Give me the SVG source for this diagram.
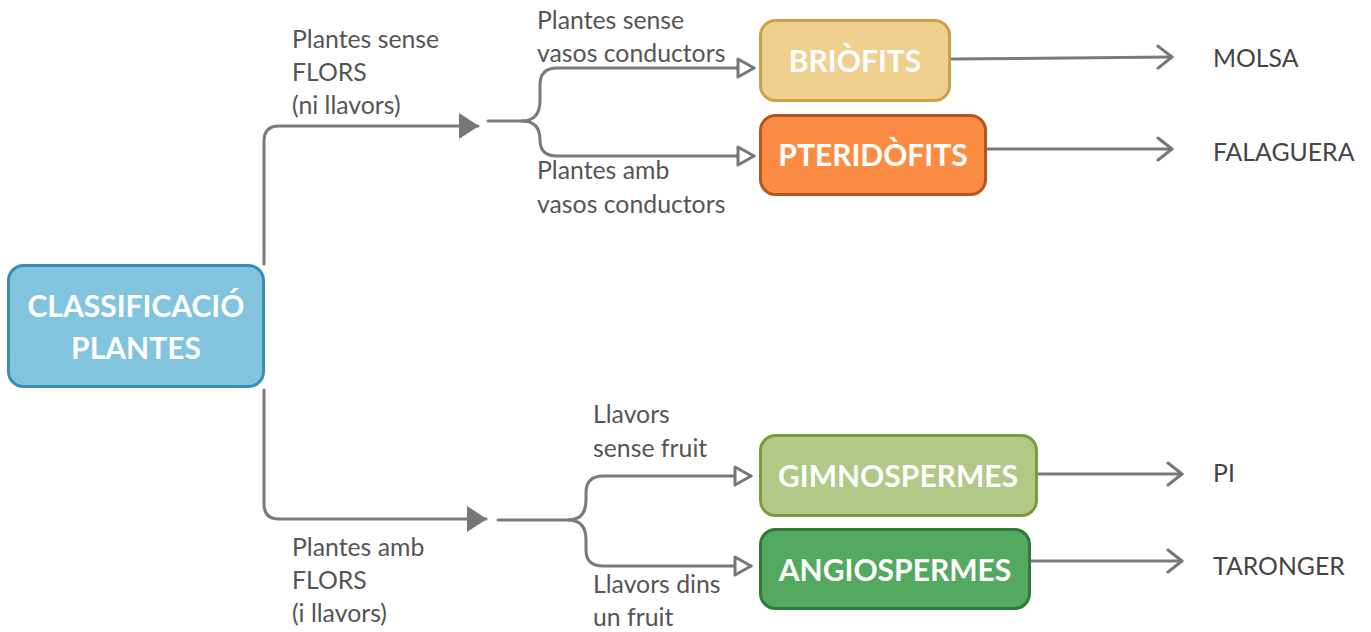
<svg xmlns="http://www.w3.org/2000/svg" width="1371" height="632" viewBox="0 0 1371 632">
<defs>
<marker id="filled" viewBox="0 0 20 26" refX="19" refY="13" markerWidth="20" markerHeight="26" markerUnits="userSpaceOnUse" orient="auto">
<path d="M0,0 L20,13 L0,26 Z" fill="#777"/>
</marker>
<marker id="hollow" viewBox="0 0 20 22" refX="18" refY="11" markerWidth="20" markerHeight="22" markerUnits="userSpaceOnUse" orient="auto">
<path d="M2,2 L18,11 L2,20 Z" fill="#fff" stroke="#777" stroke-width="3" stroke-linejoin="round"/>
</marker>
<marker id="open" viewBox="0 0 18 26" refX="16" refY="13" markerWidth="18" markerHeight="26" markerUnits="userSpaceOnUse" orient="auto">
<path d="M2,2 L16,13 L2,24" fill="none" stroke="#777" stroke-width="3" stroke-linecap="round" stroke-linejoin="round"/>
</marker>
</defs>
<style>
.c{fill:none;stroke:#7a7a7a;stroke-width:3;stroke-linecap:round;stroke-linejoin:round}
.box{stroke-width:3}
.nt{font-family:Lato,"Liberation Sans",sans-serif;font-weight:bold;font-size:30px;fill:#fff;text-anchor:middle}
.lbl{font-family:Lato,"Liberation Sans",sans-serif;font-size:24.8px;fill:#555}
.leaf{font-family:Lato,"Liberation Sans",sans-serif;font-size:24.8px;fill:#444}
</style>
<rect width="1371" height="632" fill="#fff"/>
<g id="connectors">
<path class="c" d="M264,264 L264,141 Q264,126 279,126 L478,126" marker-end="url(#filled)"/>
<path class="c" d="M488,121 L522,121 Q540,121 540,100 L540,85 Q540,68 557,68 L754,68" marker-end="url(#hollow)"/>
<path class="c" d="M522,121 Q540,121 540,140 L540,140 Q540,156 557,156 L754,156" marker-end="url(#hollow)"/>
<path class="c" d="M264,390 L264,504 Q264,519 279,519 L486,519" marker-end="url(#filled)"/>
<path class="c" d="M498,520 L568,520 Q586,520 586,500 L586,493 Q586,476 603,476 L751,476" marker-end="url(#hollow)"/>
<path class="c" d="M568,520 Q586,520 586,540 L586,550 Q586,566 603,566 L751,566" marker-end="url(#hollow)"/>
<path class="c" d="M951,59 L1172,57" marker-end="url(#open)"/>
<path class="c" d="M987,149 L1172,149" marker-end="url(#open)"/>
<path class="c" d="M1038,474 L1182,474" marker-end="url(#open)"/>
<path class="c" d="M1031,561 L1182,561" marker-end="url(#open)"/>
</g>
<g id="labels">
<text class="lbl" x="292" y="48">Plantes sense</text>
<text class="lbl" x="292" y="81">FLORS</text>
<text class="lbl" x="292" y="114">(ni llavors)</text>
<text class="lbl" x="537" y="29">Plantes sense</text>
<text class="lbl" x="537" y="62">vasos conductors</text>
<text class="lbl" x="537" y="179">Plantes amb</text>
<text class="lbl" x="537" y="213">vasos conductors</text>
<text class="lbl" x="593" y="423">Llavors</text>
<text class="lbl" x="593" y="457">sense fruit</text>
<text class="lbl" x="593" y="593">Llavors dins</text>
<text class="lbl" x="593" y="626">un fruit</text>
<text class="lbl" x="292" y="556">Plantes amb</text>
<text class="lbl" x="292" y="589">FLORS</text>
<text class="lbl" x="292" y="622">(i llavors)</text>
</g>
<g id="node-main">
<rect class="box" x="8.5" y="265.5" width="255" height="121" rx="15" fill="#82c4de" stroke="#3a8db0"/>
<text class="nt" x="136" y="317">CLASSIFICACIÓ</text>
<text class="nt" x="136" y="359">PLANTES</text>
</g>
<g id="node-briofits">
<rect class="box" x="760.5" y="20.5" width="189" height="80" rx="15" fill="#efd08f" stroke="#c9a24a"/>
<text class="nt" x="855" y="72">BRIÒFITS</text>
</g>
<g id="node-pteridofits">
<rect class="box" x="760.5" y="115.5" width="225" height="79" rx="15" fill="#fb8c43" stroke="#b5561e"/>
<text class="nt" x="873" y="166">PTERIDÒFITS</text>
</g>
<g id="node-gimnospermes">
<rect class="box" x="760.5" y="435.5" width="276" height="80" rx="15" fill="#b1c887" stroke="#7b9a3a"/>
<text class="nt" x="898" y="487">GIMNOSPERMES</text>
</g>
<g id="node-angiospermes">
<rect class="box" x="760.5" y="529.5" width="269" height="79" rx="15" fill="#53a95f" stroke="#2f7a3a"/>
<text class="nt" x="895" y="581">ANGIOSPERMES</text>
</g>
<g id="leaves">
<text class="leaf" x="1213" y="67">MOLSA</text>
<text class="leaf" x="1213" y="161">FALAGUERA</text>
<text class="leaf" x="1213" y="482">PI</text>
<text class="leaf" x="1213" y="575">TARONGER</text>
</g>
</svg>
